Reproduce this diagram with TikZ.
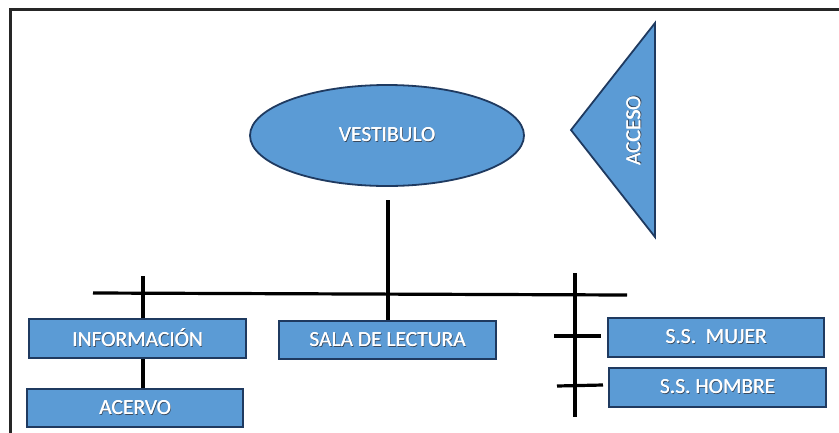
\documentclass[tikz,border=0pt]{standalone}
\usepackage{fontspec}
\setmainfont{Carlito}
\usetikzlibrary{shapes.geometric}
\definecolor{boxfill}{HTML}{5B9BD5}
\definecolor{boxline}{HTML}{1F3A60}
\definecolor{shade}{HTML}{3A4A5E}
\newcommand\shtxt[1]{\rlap{\raisebox{-1pt}{\hspace{1pt}\textcolor{shade}{#1}}}\rlap{\hspace{0.4pt}#1}#1}
\tikzset{
  roomfont/.style={text=white, font=\fontsize{21.5}{23}\selectfont},
  room/.style={draw=boxline, line width=1.8pt, fill=boxfill, roomfont, inner sep=0pt},
  conn/.style={line width=3.2pt, black},
  frame/.style={line width=3pt, black!85}
}
\begin{document}
\begin{tikzpicture}[x=1pt,y=-1pt]
\useasboundingbox (0,0) rectangle (839,432);
% frame (cropped at right and bottom)
\draw[frame] (10,440) -- (10,9) -- (850,9);
% vestibulo
\node[room, ellipse, minimum width=274pt, minimum height=101pt] (vest) at (387,135.5) {\shtxt{VESTIBULO}};
% acceso triangle
\filldraw[draw=boxline, line width=1.8pt, fill=boxfill, line join=miter] (571,130) -- (655,23) -- (655,237) -- cycle;
\node[roomfont, rotate=90, inner sep=0pt] (acc) at (634,131) {\shtxt{ACCESO}};
% boxes
\node[room, minimum width=217pt, minimum height=39pt] (info) at (137.5,338.5) {\shtxt{INFORMACIÓN}};
\node[room, minimum width=216pt, minimum height=38pt] (acer) at (135,408) {\shtxt{ACERVO}};
\node[room, minimum width=217pt, minimum height=38pt] (sala) at (387.5,340) {\shtxt{SALA DE LECTURA}};
\node[room, minimum width=216pt, minimum height=39pt] (muj) at (716,337.5) {\shtxt{S.S.\ \ MUJER}};
\node[room, minimum width=217pt, minimum height=39pt] (hom) at (717.5,387.5) {\shtxt{S.S. HOMBRE}};
% connectors
\coordinate (vtop) at (388,200);
\coordinate (busL) at (93,293);
\coordinate (busR) at (627,295);
\coordinate (itop) at (143,276);
\coordinate (rtop) at (575,273);
\coordinate (rbot) at (575,417);
\coordinate (t1a) at (554,336);
\coordinate (t1b) at (601,336);
\coordinate (t2a) at (557,386);
\coordinate (t2b) at (603,385);
\draw[conn] (vtop) -- (vtop |- sala.north);
\draw[conn] (busL) -- (busR);
\draw[conn] (itop) -- (itop |- info.north);
\draw[conn] (info.south -| itop) -- (acer.north -| itop);
\draw[conn] (rtop) -- (rbot);
\draw[conn] (t1a) -- (t1b);
\draw[conn] (t2a) -- (t2b);
\end{tikzpicture}
\end{document}
